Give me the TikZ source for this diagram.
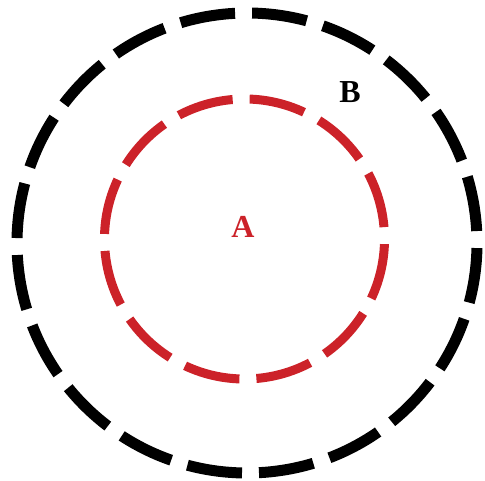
\documentclass[tikz,border=0pt]{standalone}
\usepackage{fontspec}
\setmainfont{Liberation Serif}
\usepackage{tikz}
\definecolor{zonered}{RGB}{204,34,41}

\begin{document}
\begin{tikzpicture}[x=1pt,y=1pt,
  outerring/.style={draw=black,line width=11pt,dash pattern=on 55.26pt off 17pt},
  innerring/.style={draw=zonered,line width=9pt,dash pattern=on 56.3pt off 17pt},
  zonelabel/.style={font=\fontsize{32}{34}\selectfont\bfseries,inner sep=0pt}]
\useasboundingbox (0,0) rectangle (485,480);
\coordinate (cB) at (247,237);
\coordinate (cA) at (244.5,241);
\draw[outerring] (cB) ++(93.0:230) arc[start angle=93.0,delta angle=360,radius=230];
\draw[innerring] (cA) ++(94.9:140) arc[start angle=94.9,delta angle=360,radius=140];
\node[zonelabel,text=zonered] (labA) at (243,253) {A};
\node[zonelabel] (labB) at (350,388) {B};
\end{tikzpicture}
\end{document}
